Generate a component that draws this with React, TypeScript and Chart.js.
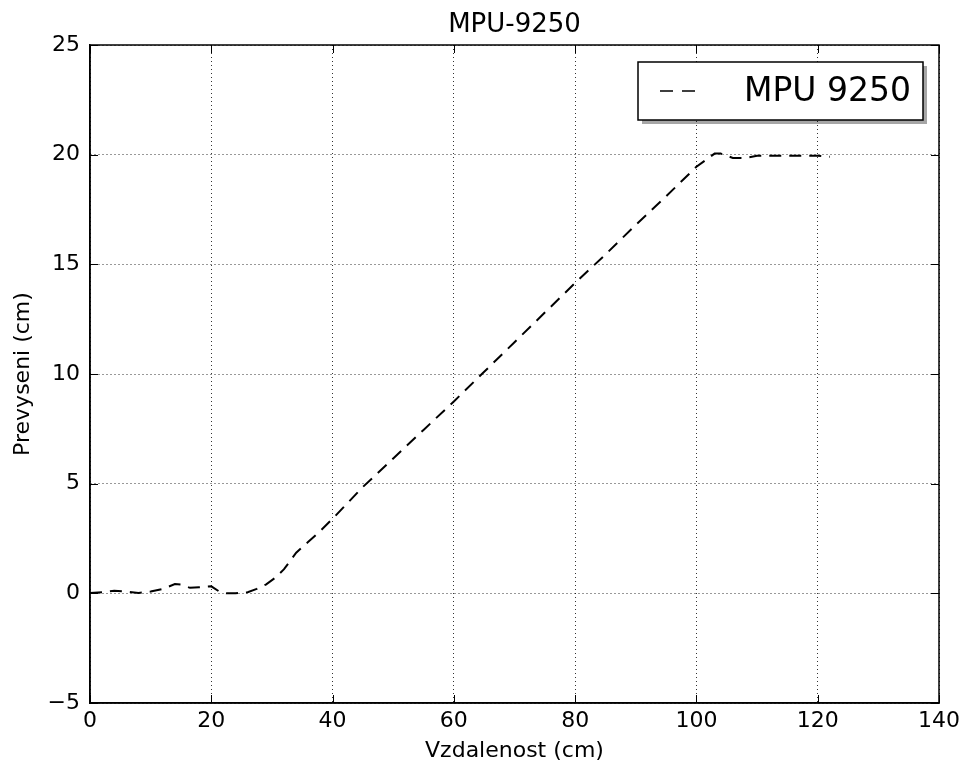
import React, { useEffect, useRef } from "react";
import { Chart, registerables } from "chart.js";

Chart.register(...registerables);

const distance: number[] = [
  0, 2, 4, 6, 8, 10, 12, 14, 15, 16.5, 18, 20, 21.5, 22.5, 24, 26, 27.5, 29, 30.5, 32, 34, 36, 38, 40,
  45, 50, 55, 60, 65, 70, 75, 80, 85, 90, 95, 100, 103, 104, 106, 108, 110, 115, 120, 122,
];
const elevation: number[] = [
  0.02, 0.05, 0.12, 0.08, 0.02, 0.08, 0.2, 0.42, 0.4, 0.25, 0.28, 0.32, 0.05, 0.0, 0.0, 0.05, 0.2, 0.4, 0.7, 1.1, 1.85, 2.35, 2.85, 3.4,
  4.85, 6.15, 7.45, 8.75, 10.1, 11.45, 12.8, 14.15, 15.45, 16.8, 18.1, 19.45, 20.05, 20.05, 19.85, 19.85, 19.95, 19.95, 19.95, 19.9,
];
const seriesLabel = "MPU 9250";
const chartTitle = "MPU-9250";
const xTitle = "Vzdalenost (cm)";
const yTitle = "Prevyseni (cm)";
const xTicks = { min: 0, max: 140, step: 20 };
const yTicks = { min: -5, max: 25, step: 5 };

const FONT = "'DejaVu Sans', sans-serif";

const framePlugin = {
  id: "frame",
  afterDraw(chart: any) {
    const { ctx, chartArea: a, scales } = chart;
    ctx.save();
    // title centred over the axes
    ctx.fillStyle = "#000";
    ctx.font = `26px ${FONT}`;
    ctx.textAlign = "center";
    ctx.textBaseline = "middle";
    ctx.fillText(chartTitle, (a.left + a.right) / 2, a.top - 20);

    // inward ticks on all four sides
    ctx.strokeStyle = "#000";
    ctx.lineWidth = 1;
    ctx.setLineDash([]);
    const tl = 8;
    scales.x.ticks.forEach((t: any) => {
      const px = Math.round(scales.x.getPixelForValue(t.value)) + 0.5;
      ctx.beginPath();
      ctx.moveTo(px, a.bottom);
      ctx.lineTo(px, a.bottom - tl);
      ctx.moveTo(px, a.top);
      ctx.lineTo(px, a.top + tl);
      ctx.stroke();
    });
    scales.y.ticks.forEach((t: any) => {
      const py = Math.round(scales.y.getPixelForValue(t.value)) + 0.5;
      ctx.beginPath();
      ctx.moveTo(a.left, py);
      ctx.lineTo(a.left + tl, py);
      ctx.moveTo(a.right, py);
      ctx.lineTo(a.right - tl, py);
      ctx.stroke();
    });
    // frame
    ctx.lineWidth = 1.5;
    ctx.strokeRect(a.left, a.top, a.right - a.left, a.bottom - a.top);

    // legend
    const w = 285;
    const h = 58;
    const lx = a.right - 16 - w;
    const ly = a.top + 17;
    ctx.fillStyle = "rgba(0,0,0,0.35)";
    ctx.fillRect(lx + 4, ly + 4, w, h);
    ctx.fillStyle = "#fff";
    ctx.fillRect(lx, ly, w, h);
    ctx.strokeStyle = "#000";
    ctx.lineWidth = 1.5;
    ctx.strokeRect(lx, ly, w, h);
    const cy = ly + h / 2;
    ctx.lineWidth = 1.7;
    ctx.setLineDash([13, 9]);
    ctx.beginPath();
    ctx.moveTo(lx + 22, cy);
    ctx.lineTo(lx + 59, cy);
    ctx.stroke();
    ctx.setLineDash([]);
    ctx.fillStyle = "#000";
    ctx.font = `33px ${FONT}`;
    ctx.textAlign = "left";
    ctx.textBaseline = "middle";
    ctx.fillText(seriesLabel, lx + 106, cy + 1);
    ctx.restore();
  },
};

export default function App() {
  const ref = useRef<HTMLCanvasElement | null>(null);

  useEffect(() => {
    if (!ref.current) return;
    const chart = new Chart(ref.current, {
      type: "line",
      data: {
        datasets: [
          {
            label: seriesLabel,
            data: distance.map((x, i) => ({ x, y: elevation[i] })),
            borderColor: "#000",
            borderWidth: 2,
            borderDash: [12, 8],
            pointRadius: 0,
            tension: 0,
            fill: false,
          },
        ],
      },
      options: {
        animation: false,
        responsive: false,
        layout: { padding: { top: 45, right: 24, left: 0, bottom: 0 } },
        plugins: {
          legend: { display: false },
          tooltip: { enabled: false },
          title: { display: false },
        },
        scales: {
          x: {
            type: "linear",
            min: xTicks.min,
            max: xTicks.max,
            afterFit: (s: any) => {
              s.height = 66;
              s.paddingLeft = 0;
              s.paddingRight = 0;
            },
            ticks: {
              stepSize: xTicks.step,
              color: "#000",
              padding: 5,
              maxRotation: 0,
              font: { family: FONT, size: 22 },
              callback: (v: any) => String(v).replace("-", "\u2212"),
            },
            grid: {
              color: "rgba(0,0,0,0.8)",
              lineWidth: 1,
              drawTicks: false,
            },
            border: { display: true, color: "#000", width: 1.5, dash: [1, 3] },
            title: {
              display: true,
              text: xTitle,
              color: "#000",
              font: { family: FONT, size: 22 },
              padding: { top: 0, bottom: 5 },
            },
          },
          y: {
            type: "linear",
            min: yTicks.min,
            max: yTicks.max,
            afterFit: (s: any) => {
              s.width = 90;
              s.paddingTop = 0;
              s.paddingBottom = 0;
            },
            ticks: {
              stepSize: yTicks.step,
              color: "#000",
              padding: 10,
              font: { family: FONT, size: 22 },
              callback: (v: any) => String(v).replace("-", "\u2212"),
            },
            grid: {
              color: "rgba(0,0,0,0.8)",
              lineWidth: 1,
              drawTicks: false,
            },
            border: { display: true, color: "#000", width: 1.5, dash: [1, 3] },
            title: {
              display: true,
              text: yTitle,
              color: "#000",
              font: { family: FONT, size: 22 },
              padding: { top: 10, bottom: 0 },
            },
          },
        },
      },
      plugins: [framePlugin],
    } as any);
    return () => chart.destroy();
  }, []);

  return (
    <div style={{ position: "fixed", left: 0, top: 0, width: 963, height: 769, background: "#fff" }}>
      <canvas ref={ref} width={963} height={769} style={{ width: 963, height: 769 }} />
    </div>
  );
}
